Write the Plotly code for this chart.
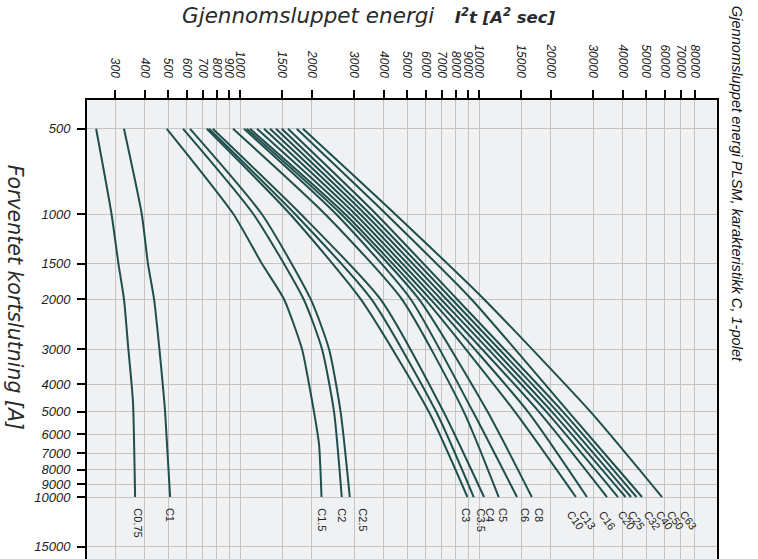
import math
import plotly.graph_objects as go

# Prospective short-circuit current [A] (y) vs let-through energy I2t [A2 s] (x)
labels = ["C0.75", "C1", "C1.5", "C2", "C2.5", "C3", "C3.5", "C4", "C5", "C6", "C8",
          "C10", "C13", "C16", "C20", "C25", "C32", "C40", "C50", "C63"]
# I2t value under which each curve label is printed
label_i2t = [375, 510, 2210, 2665, 3280, 8822, 10195, 11120, 12600, 15578, 17824,
             25210, 28390, 34220, 41210, 45380, 52800, 59430, 66090, 74900]

I_std = [500, 1000, 2000, 5000, 10000]

cur_C0_75 = [500, 1000, 1500, 2000, 3000, 4000, 4700, 10000]
i2t_C0_75 = [250, 290, 310, 327, 341, 352, 357, 364]
cur_C1 = [500, 1000, 1500, 2000, 3000, 4000, 5000, 10000]
i2t_C1 = [327, 388, 412, 437, 460, 475, 486, 510]
cur_C1_5 = [500, 1000, 1500, 2000, 3000, 4000, 5000, 6500, 10000]
i2t_C1_5 = [494, 938, 1236, 1528, 1817, 1945, 2040, 2141, 2193]
cur_C2 = [500, 1000, 2000, 3000, 5000, 10000]
i2t_C2 = [578, 1137, 1846, 2203, 2474, 2665]
cur_C2_5 = [500, 1000, 2000, 3000, 5000, 10000]
i2t_C2_5 = [618, 1233, 1976, 2357, 2636, 2880]

i2t_C3 = [726, 1619, 3199, 6166, 8944]
i2t_C3_5 = [742, 1699, 3546, 6621, 9502]
i2t_C4 = [769, 1795, 3868, 7104, 10494]
i2t_C5 = [935, 2267, 4754, 8640, 12089]
i2t_C6 = [1039, 2522, 5178, 9438, 14421]
i2t_C8 = [1067, 2646, 5606, 10865, 16632]
i2t_C10 = [1101, 2750, 5943, 14145, 25433]
i2t_C13 = [1178, 2886, 6262, 16032, 28285]
i2t_C16 = [1260, 3028, 6591, 17824, 34320]
i2t_C20 = [1335, 3177, 6934, 19161, 38154]
i2t_C25 = [1414, 3334, 7304, 20207, 41020]
i2t_C32 = [1495, 3499, 7695, 21306, 43251]
i2t_C40 = [1588, 3707, 8090, 22464, 45604]
i2t_C50 = [1727, 4083, 9294, 23690, 48084]
i2t_C63 = [1834, 4452, 10493, 29309, 58318]

x_ticks = [300, 400, 500, 600, 700, 800, 900, 1000, 1500, 2000, 3000, 4000, 5000,
           6000, 7000, 8000, 9000, 10000, 15000, 20000, 30000, 40000, 50000, 60000,
           70000, 80000]
y_ticks = [500, 1000, 1500, 2000, 3000, 4000, 5000, 6000, 7000, 8000, 9000, 10000, 15000]

series = [
    (cur_C0_75, i2t_C0_75), (cur_C1, i2t_C1), (cur_C1_5, i2t_C1_5), (cur_C2, i2t_C2),
    (cur_C2_5, i2t_C2_5), (I_std, i2t_C3), (I_std, i2t_C3_5), (I_std, i2t_C4),
    (I_std, i2t_C5), (I_std, i2t_C6), (I_std, i2t_C8), (I_std, i2t_C10),
    (I_std, i2t_C13), (I_std, i2t_C16), (I_std, i2t_C20), (I_std, i2t_C25),
    (I_std, i2t_C32), (I_std, i2t_C40), (I_std, i2t_C50), (I_std, i2t_C63),
]

LINE = "#1f4f4c"
BG = "#f0f1f3"
fig = go.Figure()
for name, (cur, e) in zip(labels, series):
    fig.add_trace(go.Scatter(x=e, y=cur, mode="lines", name=name,
                             line=dict(color=LINE, width=2, shape="spline", smoothing=0.6),
                             showlegend=False, hoverinfo="x+y+name"))

annotations = []
for k, (name, (cur, e)) in enumerate(zip(labels, series)):
    ang = 90 if k < 11 else 55
    annotations.append(dict(x=math.log10(label_i2t[k]), y=math.log10(cur[-1]),
                            xref="x", yref="y", text=name, textangle=ang, showarrow=False,
                            xanchor="center", yanchor="top", yshift=-9,
                            font=dict(family="Liberation Sans, Arial", size=11, color="#222")))

annotations.append(dict(
    text="<i>Gjennomsluppet energi   </i>"
         "<span style='font-size:16.5px'><b><i>I<sup>2</sup>t [A<sup>2</sup> sec]</i></b></span>",
    xref="paper", yref="paper", x=0.448, y=1.185, xanchor="center", yanchor="middle",
    showarrow=False, font=dict(family="DejaVu Sans", size=21.5, color="#2a2a2a")))
annotations.append(dict(
    text="<i>Forventet kortslutning [A]</i>", textangle=90,
    xref="paper", yref="paper", x=-0.114, y=0.571, xanchor="center", yanchor="middle",
    showarrow=False, font=dict(family="DejaVu Sans", size=20.5, color="#2a2a2a")))
annotations.append(dict(
    text="<i>Gjennomsluppet energi PLSM, karakteristikk C, 1-polet</i>", textangle=90,
    xref="paper", yref="paper", x=1.032, y=0.817, xanchor="center", yanchor="middle",
    showarrow=False, font=dict(family="Liberation Sans, Arial", size=14.6, color="#111")))

# below the 15000 line the reference has no vertical grid
shapes = [dict(type="rect", xref="paper", yref="y", x0=0, x1=1,
               y0=math.log10(15000), y1=math.log10(40000),
               fillcolor=BG, line=dict(width=0), layer="between")]

fig.update_layout(
    width=758, height=559,
    margin=dict(l=87, r=41, t=100, b=0),
    paper_bgcolor="white", plot_bgcolor=BG,
    annotations=annotations, shapes=shapes,
    xaxis=dict(type="log", side="top", range=[2.3598, 4.9958],
               tickvals=x_ticks, ticktext=[str(v) for v in x_ticks],
               tickangle=90, ticks="outside", ticklen=8, tickwidth=1.5, tickcolor="black",
               showline=True, linecolor="black", linewidth=2, mirror=False,
               showgrid=True, gridcolor="#c4c4c4", gridwidth=1, zeroline=False,
               tickfont=dict(family="Liberation Sans, Arial", size=12, color="#222",
                             style="italic"),
               ticklabelstandoff=8),
    yaxis=dict(type="log", range=[4.219, 2.5972],
               tickvals=y_ticks, ticktext=[str(v) for v in y_ticks],
               ticks="outside", ticklen=8, tickwidth=1.5, tickcolor="black",
               showline=True, linecolor="black", linewidth=2, mirror=True,
               showgrid=True, gridcolor="#c4c4c4", gridwidth=1, zeroline=False,
               tickfont=dict(family="Liberation Sans, Arial", size=13, color="#222",
                             style="italic"),
               ticklabelstandoff=4),
)

fig.write_html("out.html", config={"displayModeBar": False},
               post_script="document.body.style.margin='0';")
